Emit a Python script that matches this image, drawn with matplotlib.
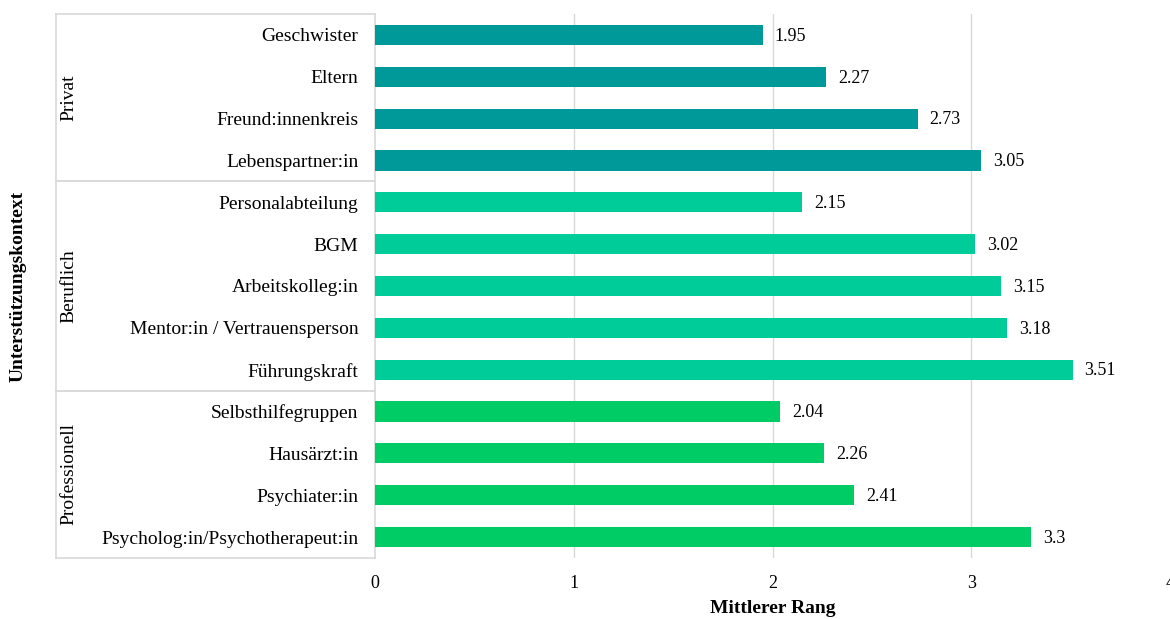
import matplotlib.pyplot as plt
from matplotlib.lines import Line2D

plt.rcParams['font.family'] = ['Liberation Serif', 'DejaVu Serif']

# Mean ranks per support source, grouped by context
groups = ["Privat", "Beruflich", "Professionell"]
group_colors = ["#009999", "#00CC99", "#00CC66"]

privat_labels = ["Geschwister", "Eltern", "Freund:innenkreis", "Lebenspartner:in"]
privat_values = [1.95, 2.27, 2.73, 3.05]

beruflich_labels = ["Personalabteilung", "BGM", "Arbeitskolleg:in",
                    "Mentor:in / Vertrauensperson", "Führungskraft"]
beruflich_values = [2.15, 3.02, 3.15, 3.18, 3.51]

professionell_labels = ["Selbsthilfegruppen", "Hausärzt:in", "Psychiater:in",
                        "Psycholog:in/Psychotherapeut:in"]
professionell_values = [2.04, 2.26, 2.41, 3.3]

x_ticks = [0, 1, 2, 3, 4]

group_labels = [privat_labels, beruflich_labels, professionell_labels]
group_values = [privat_values, beruflich_values, professionell_values]

W, H = 1170, 619
fig = plt.figure(figsize=(W / 100, H / 100), dpi=100)
ax_l, ax_r = 375, 1170
ax = fig.add_axes([ax_l / W, 1 - 558 / H, (ax_r - ax_l) / W, (558 - 14) / H])

grid_c = "#d9d9d9"
labels, values, colors, bounds = [], [], [], []
for name, labs, vals, col in zip(groups, group_labels, group_values, group_colors):
    start = len(labels)
    labels += labs
    values += vals
    colors += [col] * len(vals)
    bounds.append((name, start, len(labels)))

ypos = list(range(len(labels)))
ax.barh(ypos, values, height=0.48, color=colors, zorder=3)
for y, v in zip(ypos, values):
    ax.text(v + 0.06, y + 0.03, f"{v:g}", va="center", ha="left", fontsize=13, zorder=4)

ax.set_ylim(len(labels) - 0.5, -0.5)
ax.set_xlim(0, 4)
ax.set_yticks(ypos)
ax.set_yticklabels(labels, fontsize=14)
ax.set_xticks(x_ticks)
ax.set_xticklabels([str(t) for t in x_ticks], fontsize=13)
ax.tick_params(axis="y", length=0, pad=12)
ax.tick_params(axis="x", length=0, pad=12)
# inner vertical gridlines only (the outer one sits on the figure edge)
for t in x_ticks[1:-1]:
    ax.axvline(t, color=grid_c, lw=1, zorder=0)
for s in ["top", "right", "bottom"]:
    ax.spines[s].set_visible(False)
ax.spines["left"].set_color(grid_c)
ax.spines["left"].set_linewidth(1.2)

ax.set_xlabel("Mittlerer Rang", fontsize=14, fontweight="bold", labelpad=6)

# group box left of the axis: horizontal separators and outer line
trans = ax.get_yaxis_transform()
x_left = (56 - ax_l) / (ax_r - ax_l)
for name, a, b in bounds:
    for yy in (a - 0.5, b - 0.5):
        ax.add_line(Line2D([x_left, 0], [yy, yy], transform=trans, color=grid_c,
                           lw=1.2, clip_on=False))
    ax.text(x_left + 0.005, (a + b - 1) / 2, name, transform=trans, rotation=90,
            va="center", ha="left", fontsize=14)
ax.add_line(Line2D([x_left, x_left], [-0.5, len(labels) - 0.5], transform=trans,
                   color=grid_c, lw=1.2, clip_on=False))

fig.text(18 / W, 1 - 286 / H, "Unterstützungskontext", rotation=90, va="center",
         ha="center", fontsize=14, fontweight="bold")

fig.savefig("out.png", dpi=100)
